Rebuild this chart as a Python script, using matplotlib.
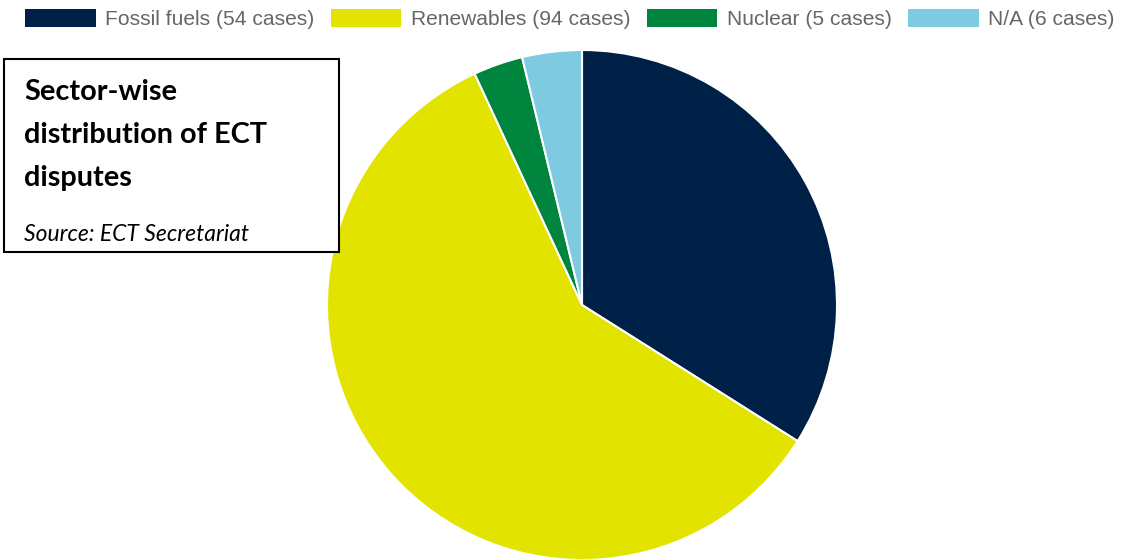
import matplotlib
matplotlib.use("Agg")
import matplotlib.pyplot as plt
from matplotlib.patches import Rectangle

# data
sectors = ["Fossil fuels", "Renewables", "Nuclear", "N/A"]
cases = [54, 94, 5, 6]
colors = ["#002147", "#e3e300", "#00853f", "#7ecbe1"]
labels = [f"{s} ({n} cases)" for s, n in zip(sectors, cases)]

W, H = 1124, 560
fig = plt.figure(figsize=(W / 100, H / 100), dpi=100)

# pie axes, placed in pixel terms
cx, cy, r = 582, 305, 255
ax = fig.add_axes([(cx - r) / W, (H - cy - r) / H, 2 * r / W, 2 * r / H])
wedges, _ = ax.pie(cases, colors=colors, startangle=90, counterclock=False,
                   wedgeprops=dict(edgecolor="white", linewidth=1.5))
ax.set_xlim(-1, 1)
ax.set_ylim(-1, 1)
ax.set_aspect("equal")

leg = fig.legend(wedges, labels, loc="upper left", bbox_to_anchor=(17 / W, 1 - 1 / H),
                 ncol=4, frameon=False, handlelength=3.35,
                 handleheight=0.9, handletextpad=0.45, columnspacing=0.8,
                 borderaxespad=0, prop={"family": "Liberation Sans", "size": 15.1})
for t in leg.get_texts():
    t.set_color("#666666")
for p in leg.get_patches():
    p.set_edgecolor("none")

# title box
fig.patches.append(Rectangle((4 / W, 1 - 252 / H), 335 / W, 193 / H, transform=fig.transFigure,
                             facecolor="white", edgecolor="black", linewidth=1.5, zorder=5))
title_lines = ["Sector-wise", "distribution of ECT", "disputes"]
for i, line in enumerate(title_lines):
    fig.text(24 / W, 1 - (100 + 43 * i) / H, line, fontsize=20.8, fontweight="bold",
             family="Lato", va="baseline", ha="left", zorder=6)
fig.text(24 / W, 1 - 241 / H, "Source: ECT Secretariat", fontsize=16.5, style="italic",
         family="Lato", va="baseline", ha="left", zorder=6)

fig.savefig("out.png", dpi=100)
